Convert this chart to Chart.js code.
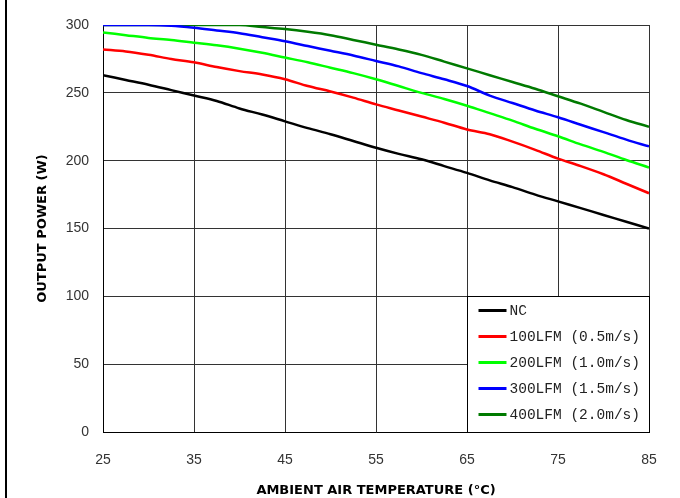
<!DOCTYPE html>
<html>
<head>
<meta charset="utf-8">
<script src="https://cdn.jsdelivr.net/npm/chart.js@4.4.1/dist/chart.umd.min.js"></script>
<style>
  body { margin: 0; background: #fff; }
  canvas { display: block; }
</style>
</head>
<body>
<canvas id="derating" width="680" height="498"></canvas>
<script>
// ambient temperature (°C) sample points
const temps = [25, 27.5, 30, 32.5, 35, 37.5, 40, 42.5, 45, 47.5, 50, 52.5, 55,
               57.5, 60, 62.5, 65, 67.5, 70, 72.5, 75, 77.5, 80, 82.5, 85];

// output power (W) per airflow
const nc     = [263, 259.5, 256, 252, 248, 244, 238.5, 234, 229, 224, 219.5, 214.5, 209.5,
                205, 201, 196, 191, 185.5, 180.5, 175, 170, 165, 160, 155, 150];
const lfm100 = [282, 280.5, 278, 275, 272.5, 269, 266, 263.5, 260, 255, 251, 246.5, 241.5,
                237, 232.5, 228, 223, 219.5, 214, 208, 201.5, 196, 190, 183, 176];
const lfm200 = [294.5, 292.5, 290.5, 289, 287, 285, 282.5, 279.5, 276, 272.5, 268.5, 264.5, 260,
                255, 250, 245.5, 240.5, 235, 229.5, 223.5, 218, 212, 206.5, 200.5, 195];
const lfm300 = [300, 300, 300, 299.5, 298, 296, 294, 291, 288, 284.5, 281, 277.5, 273.5,
                269.5, 264.5, 260, 255, 248, 242.5, 237, 232, 226.5, 221, 215.5, 210.5];
const lfm400 = [300, 300, 300, 300, 300, 300, 300, 298.5, 297, 295, 292.5, 289, 285.5,
                282, 278, 273, 268, 263, 258, 253, 247.5, 242, 236, 230, 225];

const seriesNames = ["NC", "100LFM (0.5m/s)", "200LFM (1.0m/s)", "300LFM (1.5m/s)", "400LFM (2.0m/s)"];
const seriesColors = ["#000000", "#ff0000", "#00ff00", "#0000ff", "#007a00"];
const seriesValues = [nc, lfm100, lfm200, lfm300, lfm400];

const xTicks = [25, 35, 45, 55, 65, 75, 85];

function toPoints(vals) {
  return temps.map((t, i) => ({ x: t, y: vals[i] }));
}

// legend box sits inside the plot, bottom right corner (65..85 °C, 0..100 W)
const boxLegend = {
  id: "boxLegend",
  afterDraw(chart) {
    const { ctx, scales: { x, y } } = chart;
    const left = Math.round(x.getPixelForValue(65)) + 0.5;
    const right = Math.round(x.getPixelForValue(85)) + 0.5;
    const top = Math.round(y.getPixelForValue(100)) + 0.5;
    const bottom = Math.round(y.getPixelForValue(0)) + 0.5;
    ctx.save();
    ctx.fillStyle = "#fff";
    ctx.fillRect(left, top, right - left, bottom - top);
    ctx.strokeStyle = "#000";
    ctx.lineWidth = 1;
    ctx.strokeRect(left, top, right - left, bottom - top);
    ctx.font = "14.5px 'Liberation Mono', monospace";
    ctx.textBaseline = "middle";
    seriesNames.forEach((name, i) => {
      const cy = top + 14 + i * 26;
      ctx.strokeStyle = seriesColors[i];
      ctx.lineWidth = 3;
      ctx.beginPath();
      ctx.moveTo(left + 11, cy);
      ctx.lineTo(left + 39, cy);
      ctx.stroke();
      ctx.fillStyle = "#222";
      ctx.fillText(name, left + 42, cy + 1);
    });
    // page frame line on the left
    ctx.fillStyle = "#000";
    ctx.fillRect(5, 0, 2, chart.height);
    ctx.restore();
  }
};

new Chart(document.getElementById("derating"), {
  type: "line",
  data: {
    datasets: seriesNames.map((name, i) => ({
      label: name,
      data: toPoints(seriesValues[i]),
      borderColor: seriesColors[i],
      borderWidth: 2.5,
      pointRadius: 0,
      tension: 0.3,
      cubicInterpolationMode: "monotone",
      fill: false
    }))
  },
  options: {
    responsive: false,
    animation: false,
    layout: { padding: { left: 0, right: 31, top: 25, bottom: 0 } },
    plugins: {
      legend: { display: false },
      tooltip: { enabled: false }
    },
    scales: {
      x: {
        type: "linear",
        min: 25,
        max: 85,
        afterBuildTicks: s => { s.ticks = xTicks.map(v => ({ value: v })); },
        afterFit: s => { s.height = 66; },
        grid: { color: "#333", drawTicks: false },
        border: { color: "#000", width: 1 },
        ticks: {
          padding: 20,
          color: "#333",
          font: { family: "'Liberation Sans', Arial, sans-serif", size: 14 }
        },
        title: {
          display: true,
          text: "AMBIENT AIR TEMPERATURE (°C)",
          color: "#000",
          padding: { top: 0, bottom: 0 },
          font: { family: "'DejaVu Sans', sans-serif", size: 13, weight: "bold" }
        }
      },
      y: {
        min: 0,
        max: 300,
        ticks: {
          stepSize: 50,
          padding: 14,
          color: "#333",
          font: { family: "'Liberation Sans', Arial, sans-serif", size: 14 }
        },
        afterFit: s => { s.width = 103; },
        grid: { color: "#333", drawTicks: false },
        border: { color: "#000", width: 1 },
        title: {
          display: true,
          text: "OUTPUT POWER (W)",
          color: "#000",
          padding: { top: 35, bottom: 0 },
          font: { family: "'DejaVu Sans', sans-serif", size: 13, weight: "bold" }
        }
      }
    }
  },
  plugins: [boxLegend]
});
</script>
</body>
</html>
